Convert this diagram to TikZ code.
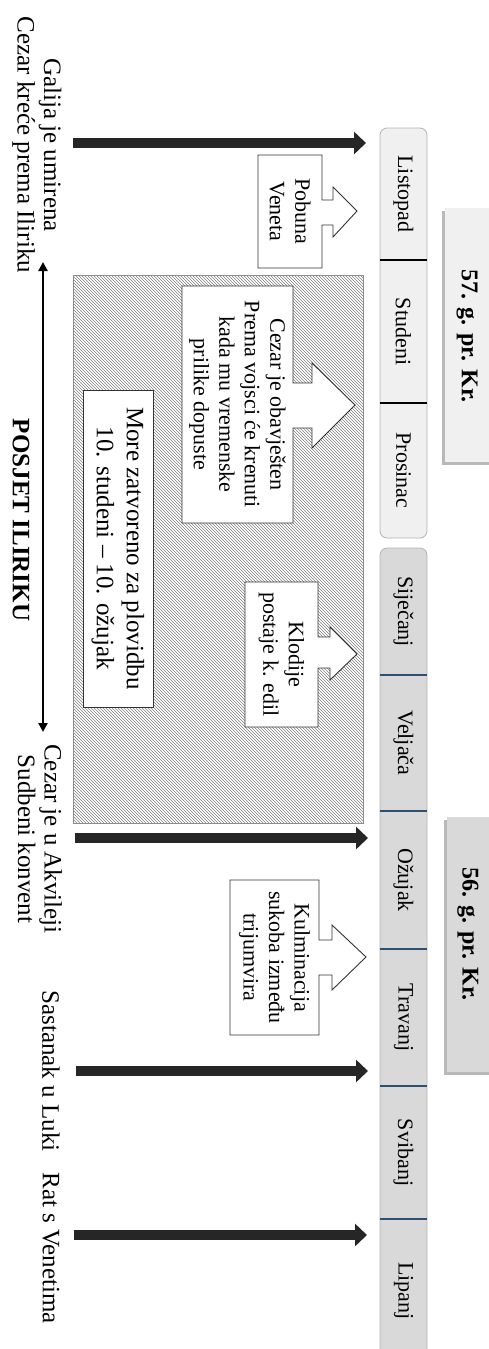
\documentclass[tikz,border=0pt]{standalone}
\usepackage{fontspec}
\setmainfont{Liberation Serif}
\usetikzlibrary{arrows.meta,patterns,shadows}
\definecolor{arrowdark}{HTML}{262626}
\definecolor{monthA}{HTML}{F0F0F0}
\definecolor{monthB}{HTML}{D9D9D9}
\definecolor{divblue}{HTML}{2E5070}
\definecolor{bordergray}{HTML}{B4B4B4}
\begin{document}
\begin{tikzpicture}[x=1pt,y=-1pt,
  bigarrow/.style={draw=arrowdark, line width=10pt, -{Triangle[length=12pt,width=22pt,fill=arrowdark]}},
  thinarrow/.style={draw=black, line width=2.2pt, {Triangle[length=9pt,width=9pt]}-{Triangle[length=9pt,width=9pt]}},
  callout/.style={draw=black!80, fill=white, line width=0.9pt, line join=miter},
  boxtext/.style={rotate=-90, align=center, inner sep=0pt, font=\fontsize{22}{25.5}\selectfont},
  bigboxtext/.style={rotate=-90, align=center, inner sep=0pt, font=\fontsize{25}{30}\selectfont},
  sidetext/.style={rotate=-90, align=center, inner sep=0pt, font=\fontsize{25}{26.5}\selectfont},
  monthtext/.style={rotate=-90, inner sep=0pt, font=\fontsize{22}{24}\selectfont},
  yeartext/.style={rotate=-90, inner sep=0pt, font=\fontsize{24}{26}\selectfont\bfseries},
  olddiv/.style={black, line width=1.8pt},
  newdiv/.style={divblue, line width=2.6pt},
  yearshadow/.style={drop shadow={shadow xshift=-3pt, shadow yshift=-3pt, opacity=0.55}}
]
\useasboundingbox (0,0) rectangle (489,1349);

% hatched period
\draw[draw=black!45, line width=0.8pt, pattern=north west lines, pattern color=black!50] (73,275) rectangle (363,823);

% month bar, first group
\filldraw[fill=monthA, draw=bordergray, line width=0.8pt, rounded corners=7pt] (380,128) rectangle (427,538);
\draw[olddiv] (380,260) -- (427,260);
\draw[olddiv] (380,403) -- (427,403);
% month bar, second group
\filldraw[fill=monthB, draw=bordergray, line width=0.8pt, rounded corners=7pt] (380,548) rectangle (427,1380);
\foreach \yy in {675,811,949,1086,1219} \draw[newdiv] (380,\yy) -- (427,\yy);

\node[monthtext] (listopad) at (403.5,194) {Listopad};
\node[monthtext] (studeni) at (403.5,331.5) {Studeni};
\node[monthtext] (prosinac) at (403.5,470.5) {Prosinac};
\node[monthtext] (sijecanj) at (403.5,611.5) {Siječanj};
\node[monthtext] (veljaca) at (403.5,743) {Veljača};
\node[monthtext] (ozujak) at (403.5,880) {Ožujak};
\node[monthtext] (travanj) at (403.5,1017.5) {Travanj};
\node[monthtext] (svibanj) at (403.5,1152.5) {Svibanj};
\node[monthtext] (lipanj) at (403.5,1291) {Lipanj};

% year boxes
\fill[fill=monthA, yearshadow] (445,208) rectangle (500,462);
\node[yeartext] (y57) at (467,336) {57. g. pr. Kr.};
\fill[fill=monthB, yearshadow] (447,817) rectangle (500,1072);
\node[yeartext] (y56) at (468,934) {56. g. pr. Kr.};

% callouts
\draw[callout] (258,155) -- (322,155) -- (322,200) -- (333,200) -- (333,187) -- (357,211)
  -- (333,237) -- (333,225) -- (322,225) -- (322,268) -- (258,268) -- cycle;
\node[boxtext] (pobuna) at (290,211.5) {Pobuna\\Veneta};

\draw[callout] (182,286) -- (293,286) -- (293,383) -- (312,383) -- (312,363) -- (355,405)
  -- (312,448) -- (312,428) -- (293,428) -- (293,523) -- (182,523) -- cycle;
\node[boxtext] (obav) at (237.5,404.5) {Cezar je obavješten\\Prema vojsci će krenuti\\kada mu vremenske\\prilike dopuste};

\draw[callout] (83,390) rectangle (153,707);
\node[bigboxtext] (more) at (118,548.5) {More zatvoreno za plovidbu\\10. studeni – 10. ožujak};

\draw[callout] (245,582) -- (318,582) -- (318,637) -- (330,637) -- (330,627) -- (357,654)
  -- (330,680) -- (330,668) -- (318,668) -- (318,727) -- (245,727) -- cycle;
\node[boxtext] (klodije) at (281.5,654.5) {Klodije\\postaje k. edil};

\draw[callout] (230,880) -- (319,880) -- (319,940) -- (332,940) -- (332,925) -- (366,957)
  -- (332,990) -- (332,975) -- (319,975) -- (319,1035) -- (230,1035) -- cycle;
\node[boxtext] (kulm) at (274.5,957.5) {Kulminacija\\sukoba između\\trijumvira};

% side labels
\node[sidetext] (galija) at (37,145) {Galija je umirena\\Cezar kreće prema Iliriku};
\node[sidetext] (akvileja) at (40,839) {Cezar je u Akvileji\\Sudbeni konvent};
\node[sidetext] (luka) at (51,1071) {Sastanak u Luki};
\node[sidetext] (rat) at (51,1248) {Rat s Venetima};
\node[sidetext, font=\fontsize{25}{26.5}\selectfont\bfseries] (posjet) at (21,520) {POSJET ILIRIKU};

% thick event arrows
\coordinate (e1s) at (73,143);  \coordinate (e1t) at (366,143);
\coordinate (e2s) at (75,838);  \coordinate (e2t) at (368,838);
\coordinate (e3s) at (76,1071); \coordinate (e3t) at (368,1071);
\coordinate (e4s) at (74,1235); \coordinate (e4t) at (367,1235);
\draw[bigarrow] (e1s) -- (e1t);
\draw[bigarrow] (e2s) -- (e2t);
\draw[bigarrow] (e3s) -- (e3t);
\draw[bigarrow] (e4s) -- (e4t);

% visit span arrow
\coordinate (vtop) at (43,262);
\coordinate (vbot) at (43,732);
\draw[thinarrow] (vtop) -- (vbot);
\end{tikzpicture}
\end{document}
